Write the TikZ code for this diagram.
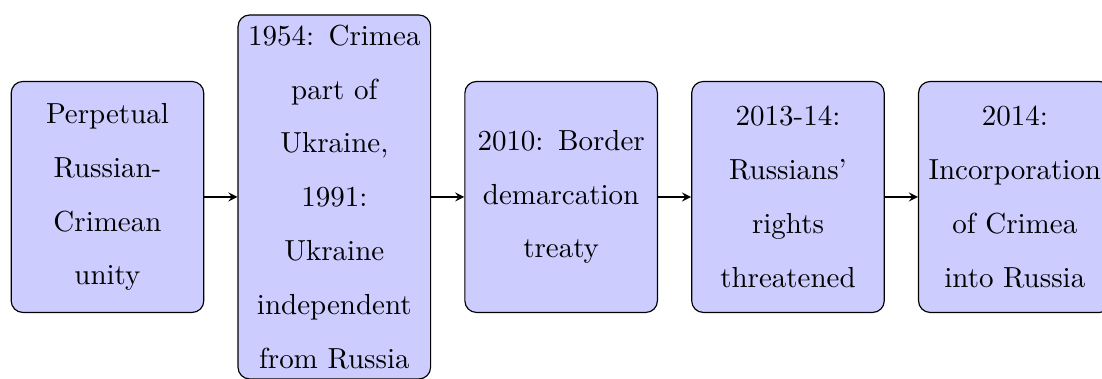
\documentclass[tikz,border=0pt]{standalone}
\usetikzlibrary{arrows}

\tikzset{
    event/.style={draw, rounded corners, fill=blue!20, text width=2.1cm,
        align=center, minimum height=2.8cm,
        font=\linespread{1.55}\selectfont}
}

\begin{document}
\begin{tikzpicture}[>=stealth]

    \useasboundingbox (-1.303,-2.206) rectangle (12.057,2.388);

    \node[event] (e1) at (0,0) {Perpetual\\Russian-\\Crimean\\unity};
    \node[event] (e2) at (2.75,0) {1954: Crimea\\part of\\Ukraine,\\1991:\\Ukraine\\independent\\from Russia};
    \node[event] (e3) at (5.5,0) {2010: Border\\demarcation\\treaty};
    \node[event] (e4) at (8.25,0) {2013-14:\\Russians'\\rights\\threatened};
    \node[event] (e5) at (11,0) {2014:\\Incorporation\\of Crimea\\into Russia};

    \draw[->] (e1) -- (e2);
    \draw[->] (e2) -- (e3);
    \draw[->] (e3) -- (e4);
    \draw[->] (e4) -- (e5);

\end{tikzpicture}
\end{document}
